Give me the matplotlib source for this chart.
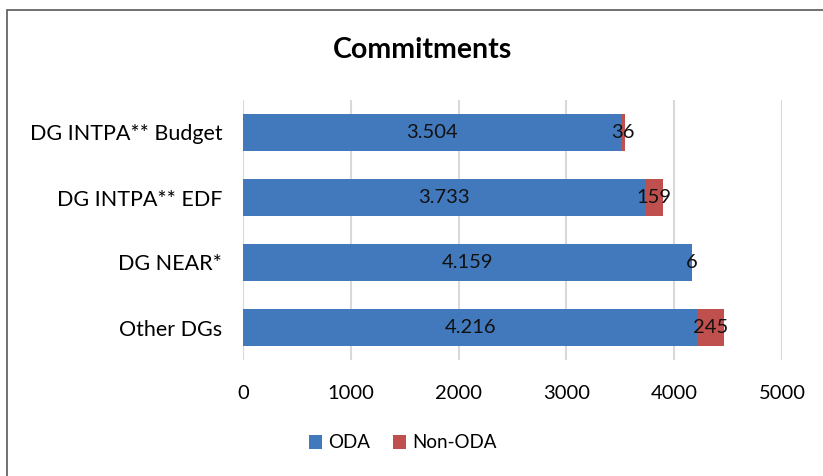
import numpy as np
import matplotlib.pyplot as plt
from matplotlib.patches import Rectangle

# data
categories = ['Other DGs', 'DG NEAR*', 'DG INTPA** EDF', 'DG INTPA** Budget']
oda = [4216, 4159, 3733, 3504]
non_oda = [245, 6, 159, 36]
oda_labels = ['4.216', '4.159', '3.733', '3.504']
non_oda_labels = ['245', '6', '159', '36']
xticks = [0, 1000, 2000, 3000, 4000, 5000]

plt.rcParams['font.family'] = ['Lato', 'DejaVu Sans']

fig = plt.figure(figsize=(8.23, 4.76), dpi=100)
ax = fig.add_axes([243/823, 1-360/476, (782-243)/823, 260/476])

y = np.arange(len(categories))
blue = '#4279BC'
red = '#C0504D'
ax.barh(y, oda, height=0.56, color=blue, label='ODA', zorder=3)
ax.barh(y, non_oda, left=oda, height=0.56, color=red, label='Non-ODA', zorder=3)

for i in range(len(categories)):
    ax.text(oda[i]/2, y[i], oda_labels[i], ha='center', va='center', fontsize=14.5, color='#111111', zorder=4)
    ax.text(oda[i] + non_oda[i]/2, y[i], non_oda_labels[i], ha='center', va='center', fontsize=14.5, color='#111111', zorder=4)

ax.set_xlim(0, 5000)
ax.set_ylim(-0.5, 3.5)
ax.set_xticks(xticks)
ax.set_yticks(y)
ax.set_yticklabels(categories, fontsize=15.5)
ax.tick_params(axis='x', labelsize=14.5, length=0, pad=18)
ax.tick_params(axis='y', length=0, pad=15)
ax.grid(axis='x', color='#D9D9D9', linewidth=1.5, zorder=0)
for s in ax.spines.values():
    s.set_visible(False)

fig.text(423/823, 1-50/476, 'Commitments', ha='center', va='center', fontsize=20.5, fontweight='bold')

ax.legend(loc='center', bbox_to_anchor=(403/823, 1-443/476), bbox_transform=fig.transFigure,
          ncol=2, frameon=False, fontsize=13.5, handlelength=0.7, handleheight=0.7,
          handletextpad=0.35, columnspacing=1.2)

# chart frame (left and top visible)
fig.patches.append(Rectangle((7/823, -0.1), 1.2, 1-10/476+0.1, transform=fig.transFigure,
                             fill=False, edgecolor='#595959', linewidth=1.2))

fig.savefig('out.png', dpi=100)
